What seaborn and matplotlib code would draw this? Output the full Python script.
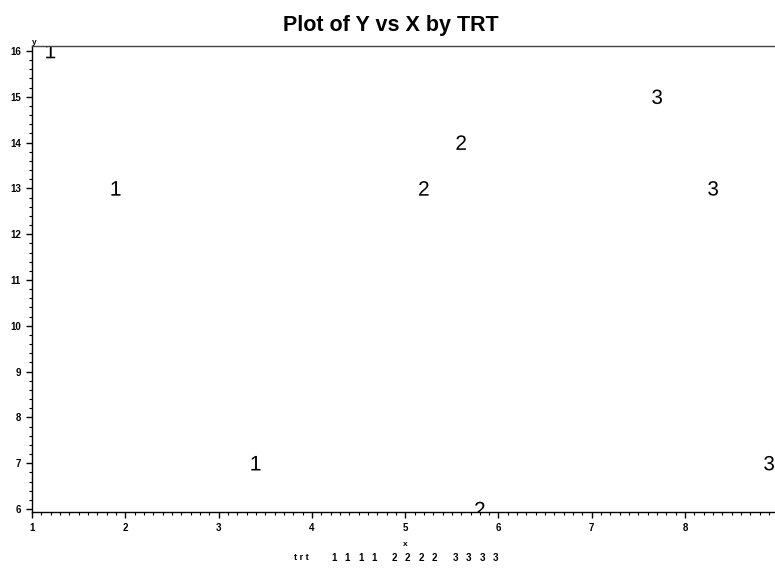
import matplotlib
matplotlib.use("Agg")
import matplotlib.pyplot as plt
import seaborn as sns
import pandas as pd
import numpy as np
from matplotlib.ticker import MultipleLocator

# data
x_vals = [1.2, 1.9, 3.4, 5.2, 5.6, 5.8, 7.7, 8.3, 8.9]
y_vals = [16, 13, 7, 13, 14, 6, 15, 13, 7]
trt = ["1", "1", "1", "2", "2", "2", "3", "3", "3"]
trt_levels = ["1", "2", "3"]
title = "Plot of Y vs X by TRT"
x_ticks = [1, 2, 3, 4, 5, 6, 7, 8]
y_ticks = [6, 7, 8, 9, 10, 11, 12, 13, 14, 15, 16]

df = pd.DataFrame({"x": x_vals, "y": y_vals, "trt": trt})

sns.set_theme(style="white")
plt.rcParams["font.family"] = ["Liberation Sans", "DejaVu Sans"]
plt.rcParams["text.color"] = "black"
plt.rcParams["xtick.color"] = "black"
plt.rcParams["ytick.color"] = "black"
plt.rcParams["mathtext.fontset"] = "custom"
plt.rcParams["mathtext.rm"] = "Liberation Sans"
plt.rcParams["mathtext.it"] = "Liberation Sans"

W, H = 775, 571
fig = plt.figure(figsize=(W / 100, H / 100), dpi=100)
left, right, top, bottom = 32, 775, 46, 512
ax = fig.add_axes([left / W, (H - bottom) / H, (right - left) / W, (bottom - top) / H])

markers = {lv: f"$\\mathrm{{{lv}}}$" for lv in trt_levels}
sns.scatterplot(data=df, x="x", y="y", style="trt", markers=markers,
                color="black", s=110, linewidth=0, legend=False, ax=ax)

ax.set_xlim(1, 1 + (right - left) / 93.3)
ax.set_ylim(6 - 3 / 45.8, 16 + 5 / 45.8)
ax.xaxis.set_minor_locator(MultipleLocator(0.1))
ax.yaxis.set_minor_locator(MultipleLocator(0.2))
ax.set_xticks(x_ticks)
ax.set_yticks(y_ticks)
ax.set_xticklabels([str(v) for v in x_ticks], fontsize=7, fontweight="bold")
ax.set_yticklabels([str(v) for v in y_ticks], fontsize=7, fontweight="bold")
ax.tick_params(axis="both", which="major", direction="out", length=4, width=1,
               color="black", pad=4, bottom=True, left=True)
ax.tick_params(axis="both", which="minor", direction="out", length=2, width=0.8,
               color="black", bottom=True, left=True)
for s in ["left", "bottom"]:
    ax.spines[s].set_color("black")
    ax.spines[s].set_linewidth(1.0)
ax.spines["top"].set_color("#444444")
ax.spines["top"].set_linewidth(1.0)
ax.spines["right"].set_visible(False)
ax.set_xlabel("")
ax.set_ylabel("")

fig.text(391 / W, 1 - 26 / H, title, ha="center", va="center",
         fontsize=15.5, fontweight="bold", color="black")
fig.text(34 / W, 1 - 43 / H, "y", ha="center", va="center", fontsize=6, fontweight="bold")
fig.text(405 / W, 1 - 545 / H, "x", ha="center", va="center", fontsize=6, fontweight="bold")

# legend row
fig.text(301 / W, 1 - 558 / H, "t r t", ha="center", va="center", fontsize=6.5, fontweight="bold")
starts = {"1": 334, "2": 394, "3": 455}
for lv in trt_levels:
    for k in range(4):
        fig.text((starts[lv] + k * 13.5) / W, 1 - 558 / H, lv, ha="center", va="center",
                 fontsize=7, fontweight="bold")

fig.savefig("out.png", dpi=100)
